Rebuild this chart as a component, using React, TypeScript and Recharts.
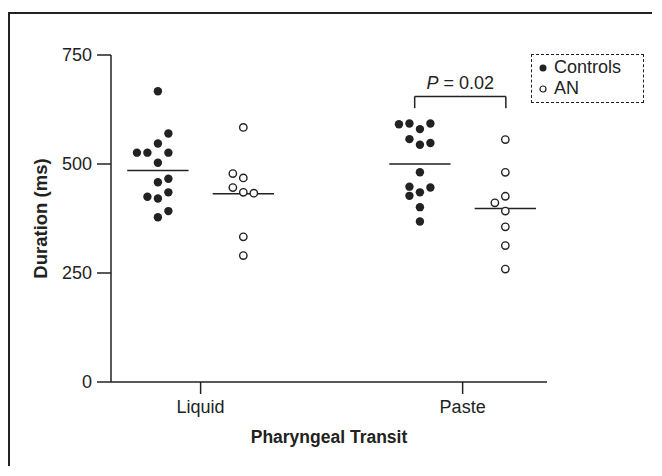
import React from 'react'
import {
  ScatterChart,
  Scatter,
  XAxis,
  YAxis,
  ReferenceLine,
  Legend,
} from 'recharts'

// Pharyngeal transit duration (ms) per subject
const CATEGORIES = ['Liquid', 'Paste']
const SERIES = ['Controls', 'AN']

const liquidControls = [667, 570, 547, 526, 526, 526, 503, 466, 458, 435, 425, 421, 392, 378]
const liquidAN = [584, 478, 468, 446, 435, 433, 333, 290]
const pasteControls = [591, 593, 580, 593, 557, 544, 548, 481, 448, 435, 446, 427, 401, 368]
const pasteAN = [556, 481, 426, 411, 392, 356, 313, 259]

// column slot of each dot inside its swarm (same order as the values)
const liquidControlsSlot = [0, 1, 0, -2, -1, 1, 0, 1, 0, 1, -1, 0, 1, 0]
const liquidANSlot = [0, -1, 0, -1, 0, 1, 0, 0]
const pasteControlsSlot = [-2, -1, 0, 1, -1, 0, 1, 0, -1, 0, 1, -1, 0, 0]
const pasteANSlot = [0, 0, 0, -1, 0, 0, 0, 0]

// group means (horizontal bars)
const liquidMeans = [485, 432]
const pasteMeans = [500, 398]

const Y_TICKS = [0, 250, 500, 750]
const P_LABEL = '0.02'

const INK = '#222'
const GROUP_SHIFT = 0.163
const SLOT_STEP = 0.04
const MEAN_HALF = 0.117

const toPoints = (cat: number, side: number, values: number[], slots: number[]) =>
  values.map((v, i) => ({ x: cat + side * GROUP_SHIFT + slots[i] * SLOT_STEP, y: v }))

const controlsData = [
  ...toPoints(1, -1, liquidControls, liquidControlsSlot),
  ...toPoints(2, -1, pasteControls, pasteControlsSlot),
]
const anData = [
  ...toPoints(1, 1, liquidAN, liquidANSlot),
  ...toPoints(2, 1, pasteAN, pasteANSlot),
]

const FilledDot = (props: any) => <circle cx={props.cx} cy={props.cy} r={4.2} fill={INK} />
const OpenDot = (props: any) => (
  <circle cx={props.cx} cy={props.cy} r={3.7} fill="#fff" stroke={INK} strokeWidth={1.4} />
)

const LegendBox = () => (
  <div
    style={{
      border: `1.5px dashed ${INK}`,
      height: 45,
      padding: '2px 0 0 5px',
      fontSize: 18,
      color: INK,
      lineHeight: '21px',
      textAlign: 'left',
    }}
  >
    {SERIES.map((name, i) => (
      <div key={name} style={{ display: 'flex', alignItems: 'center' }}>
        <svg width={12} height={12} style={{ marginRight: 5 }}>
          {i === 0 ? (
            <circle cx={6} cy={6} r={3.5} fill={INK} />
          ) : (
            <circle cx={6} cy={6} r={3} fill="#fff" stroke={INK} strokeWidth={1.2} />
          )}
        </svg>
        {name}
      </div>
    ))}
  </div>
)

const PLabel = (props: any) => {
  const { x, y, width } = props.viewBox
  return (
    <text x={x + width / 2} y={y - 7} textAnchor="middle" fontSize={18} fill={INK}>
      <tspan fontStyle="italic">P</tspan> = {P_LABEL}
    </text>
  )
}

export default function App() {
  const means = [liquidMeans, pasteMeans]
  const bracketLeft = 2 - GROUP_SHIFT - 0.02
  const bracketRight = 2 + GROUP_SHIFT + 0.002
  return (
    <div style={{ paddingTop: 4, fontFamily: '"Liberation Sans", Arial, sans-serif' }}>
      <div style={{ borderLeft: `2px solid ${INK}`, borderTop: `2px solid ${INK}`, width: 642, height: 452 }}>
        <ScatterChart width={640} height={450} margin={{ top: 41, right: 103, bottom: 12, left: 25 }}>
          <XAxis
            type="number"
            dataKey="x"
            domain={[0.658, 2.322]}
            ticks={[1, 2]}
            tickFormatter={(v: number) => CATEGORIES[v - 1]}
            allowDataOverflow
            height={70}
            tickSize={12}
            tickMargin={6}
            stroke={INK}
            strokeWidth={1.5}
            tick={{ fontSize: 18, fill: INK }}
            label={{
              value: 'Pharyngeal Transit',
              position: 'insideBottom',
              offset: 9,
              style: { fontSize: 17.5, fontWeight: 700, fill: INK },
            }}
          />
          <YAxis
            type="number"
            dataKey="y"
            domain={[0, 750]}
            ticks={Y_TICKS}
            width={76}
            tickSize={14}
            tickMargin={5}
            stroke={INK}
            strokeWidth={1.5}
            tick={{ fontSize: 18, fill: INK }}
            label={{
              value: 'Duration (ms)',
              angle: -90,
              position: 'insideLeft',
              offset: 5,
              style: { textAnchor: 'middle', fontSize: 18.5, fontWeight: 700, fill: INK },
            }}
          />
          <Legend
            layout="horizontal"
            verticalAlign="middle"
            align="center"
            content={<LegendBox />}
            wrapperStyle={{ position: 'absolute', left: 521, top: 40, width: 113 }}
          />
          {means.map((pair, ci) =>
            pair.map((m, si) => {
              const c = ci + 1 + (si === 0 ? -1 : 1) * GROUP_SHIFT
              return (
                <ReferenceLine
                  key={`${ci}-${si}`}
                  segment={[
                    { x: c - MEAN_HALF, y: m },
                    { x: c + MEAN_HALF, y: m },
                  ]}
                  stroke={INK}
                  strokeWidth={1.5}
                />
              )
            })
          )}
          <ReferenceLine
            segment={[
              { x: bracketLeft, y: 655 },
              { x: bracketRight, y: 655 },
            ]}
            stroke={INK}
            strokeWidth={1.5}
            label={<PLabel />}
          />
          <ReferenceLine
            segment={[
              { x: bracketLeft, y: 655 },
              { x: bracketLeft, y: 628 },
            ]}
            stroke={INK}
            strokeWidth={1.5}
          />
          <ReferenceLine
            segment={[
              { x: bracketRight, y: 655 },
              { x: bracketRight, y: 628 },
            ]}
            stroke={INK}
            strokeWidth={1.5}
          />
          <Scatter name={SERIES[0]} data={controlsData} shape={FilledDot} isAnimationActive={false} />
          <Scatter name={SERIES[1]} data={anData} shape={OpenDot} isAnimationActive={false} />
        </ScatterChart>
      </div>
    </div>
  )
}
